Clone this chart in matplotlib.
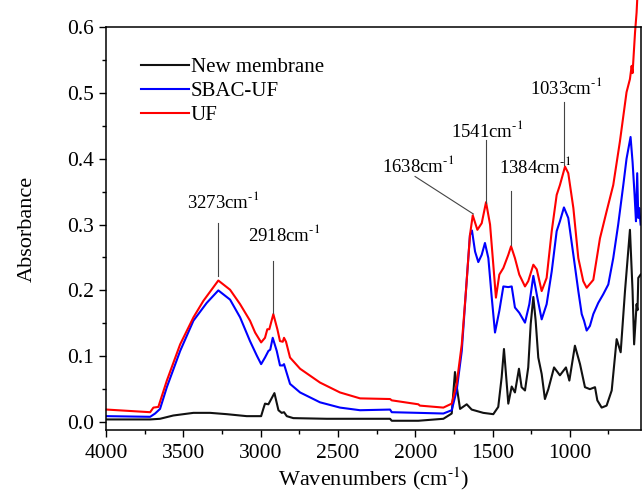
import matplotlib
matplotlib.use("Agg")
import matplotlib.pyplot as plt
from matplotlib.ticker import MultipleLocator, FormatStrFormatter

plt.rcParams['font.family'] = ['Liberation Serif', 'DejaVu Serif']
plt.rcParams['mathtext.fontset'] = 'stix'

# --- data (wavenumber cm-1, absorbance) ---
uf_x = [3996, 3715, 3694, 3662, 3607, 3521, 3435, 3371, 3274, 3198, 3133, 3069,
        3036, 2997, 2972, 2957, 2944, 2918, 2892, 2875, 2857, 2849, 2836, 2810,
        2745, 2616, 2487, 2357, 2163, 2152, 1980, 1970, 1818, 1764, 1732, 1699,
        1672, 1646, 1628, 1598, 1570, 1542, 1516, 1495, 1478, 1456, 1430, 1398,
        1380, 1355, 1327, 1290, 1269, 1236, 1214, 1182, 1150, 1117, 1085, 1064,
        1031, 1010, 977, 945, 913, 891, 848, 805, 762, 719, 676, 633, 611, 600,
        594, 578, 568, 560]
uf_y = [0.019, 0.015, 0.022, 0.023, 0.063, 0.118, 0.159, 0.184, 0.215, 0.201,
        0.179, 0.154, 0.136, 0.121, 0.128, 0.141, 0.141, 0.164, 0.141, 0.123,
        0.122, 0.128, 0.122, 0.098, 0.081, 0.060, 0.045, 0.036, 0.035, 0.033,
        0.027, 0.025, 0.022, 0.028, 0.058, 0.118, 0.199, 0.284, 0.314, 0.292,
        0.302, 0.334, 0.300, 0.239, 0.189, 0.224, 0.234, 0.254, 0.267, 0.249,
        0.224, 0.206, 0.214, 0.239, 0.232, 0.199, 0.219, 0.290, 0.345, 0.360,
        0.388, 0.378, 0.325, 0.249, 0.214, 0.204, 0.216, 0.279, 0.320, 0.360,
        0.426, 0.501, 0.521, 0.541, 0.530, 0.592, 0.622, 0.660]

sbac_x = [3996, 3715, 3683, 3651, 3607, 3521, 3435, 3349, 3274, 3198, 3133, 3069,
          3025, 2997, 2972, 2950, 2938, 2922, 2896, 2875, 2857, 2849, 2836, 2810,
          2745, 2616, 2487, 2357, 2163, 2152, 1980, 1818, 1764, 1732, 1699, 1672,
          1646, 1633, 1613, 1592, 1570, 1549, 1527, 1505, 1484, 1456, 1430, 1398,
          1376, 1355, 1327, 1290, 1262, 1236, 1210, 1182, 1150, 1117, 1085, 1064,
          1038, 1010, 977, 945, 923, 908, 891, 870, 848, 816, 784, 751, 719, 687,
          654, 633, 607, 594, 581, 572, 564, 557, 551, 542]
sbac_y = [0.009, 0.008, 0.013, 0.020, 0.053, 0.108, 0.154, 0.181, 0.200, 0.186,
          0.159, 0.123, 0.101, 0.088, 0.098, 0.108, 0.110, 0.128, 0.108, 0.086,
          0.086, 0.088, 0.078, 0.058, 0.045, 0.030, 0.022, 0.018, 0.019, 0.015,
          0.014, 0.013, 0.018, 0.048, 0.108, 0.199, 0.284, 0.291, 0.259, 0.243,
          0.254, 0.272, 0.249, 0.189, 0.136, 0.169, 0.206, 0.205, 0.206, 0.174,
          0.166, 0.151, 0.179, 0.222, 0.189, 0.156, 0.179, 0.229, 0.290, 0.305,
          0.326, 0.310, 0.254, 0.199, 0.164, 0.154, 0.139, 0.146, 0.164, 0.181,
          0.194, 0.209, 0.249, 0.300, 0.360, 0.400, 0.433, 0.395, 0.345, 0.305,
          0.378, 0.310, 0.325, 0.300]

new_x = [3996, 3715, 3651, 3565, 3435, 3327, 3219, 3090, 2997, 2983, 2972, 2950,
         2911, 2885, 2864, 2849, 2831, 2789, 2573, 2357, 2163, 2152, 1980, 1818,
         1764, 1743, 1728, 1710, 1667, 1635, 1560, 1495, 1463, 1441, 1426, 1408,
         1398, 1376, 1355, 1329, 1312, 1290, 1269, 1253, 1236, 1221, 1204, 1182,
         1161, 1139, 1102, 1064, 1025, 1003, 967, 934, 902, 870, 837, 822, 794,
         762, 729, 697, 671, 643, 611, 594, 584, 568, 562, 557, 542]
new_y = [0.004, 0.004, 0.005, 0.010, 0.014, 0.014, 0.012, 0.009, 0.009, 0.020,
         0.028, 0.027, 0.044, 0.018, 0.014, 0.015, 0.009, 0.006, 0.005, 0.005,
         0.005, 0.002, 0.002, 0.005, 0.013, 0.076, 0.048, 0.020, 0.027, 0.019,
         0.014, 0.012, 0.023, 0.068, 0.111, 0.058, 0.028, 0.054, 0.045, 0.081,
         0.053, 0.048, 0.083, 0.149, 0.190, 0.154, 0.098, 0.073, 0.035, 0.050,
         0.083, 0.071, 0.083, 0.063, 0.116, 0.088, 0.053, 0.050, 0.053, 0.033,
         0.022, 0.025, 0.048, 0.126, 0.106, 0.199, 0.292, 0.199, 0.118, 0.179,
         0.170, 0.219, 0.224]

# peak labels: text, text x, text y (baseline), leader line ends
peak_labels = ["3273", "2918", "1638", "1541", "1384", "1033"]
label_x = [3243, 2849, 1982, 1536, 1225, 1025]
label_y = [0.325, 0.2745, 0.380, 0.433, 0.378, 0.4985]
line_x0 = [3275, 2920, 2001, 1544, 1380, 1036]
line_y0 = [0.302, 0.245, 0.373, 0.428, 0.351, 0.486]
line_x1 = [3275, 2920, 1624, 1544, 1380, 1036]
line_y1 = [0.222, 0.166, 0.316, 0.332, 0.269, 0.390]

SUP = "$^{\u2010 1}$".replace(" ", "")

fig = plt.figure(figsize=(6.43, 4.94), dpi=100)
ax = fig.add_axes([0.165, 0.1296, 0.832, 0.8157])

ax.plot(new_x, new_y, color="#111111", lw=1.5, label="New membrane")
ax.plot(sbac_x, sbac_y, color="blue", lw=1.5, label="SBAC-UF")
ax.plot(uf_x, uf_y, color="red", lw=1.5, label="UF", clip_on=False)

for lab, tx, ty, x0, y0, x1, y1 in zip(peak_labels, label_x, label_y,
                                       line_x0, line_y0, line_x1, line_y1):
    ax.plot([x0, x1], [y0, y1], color="#444444", lw=0.8)
    ax.text(tx, ty, lab + "cm" + SUP, ha="center", va="baseline", fontsize=13.5)

ax.set_xlim(4000, 539)
ax.set_ylim(-0.012, 0.6)
ax.xaxis.set_major_locator(MultipleLocator(500))
ax.xaxis.set_minor_locator(MultipleLocator(250))
ax.yaxis.set_major_locator(MultipleLocator(0.1))
ax.yaxis.set_minor_locator(MultipleLocator(0.05))
ax.yaxis.set_major_formatter(FormatStrFormatter("%.1f"))
ax.tick_params(which="major", length=5, width=1, labelsize=15.5)
ax.tick_params(axis="x", which="major", pad=5)
ax.tick_params(which="minor", length=3, width=1)
for s in ax.spines.values():
    s.set_linewidth(1.1)

ax.set_xlabel("Wavenumbers (cm" + SUP + ")", fontsize=16, labelpad=2)
ax.set_ylabel("Absorbance", fontsize=16, labelpad=22)

ax.legend(loc="upper left", bbox_to_anchor=(0.03, 0.97), frameon=False,
          fontsize=15, handlelength=2.3, handletextpad=0.1, labelspacing=0.2)

fig.savefig("out.png", dpi=100)
